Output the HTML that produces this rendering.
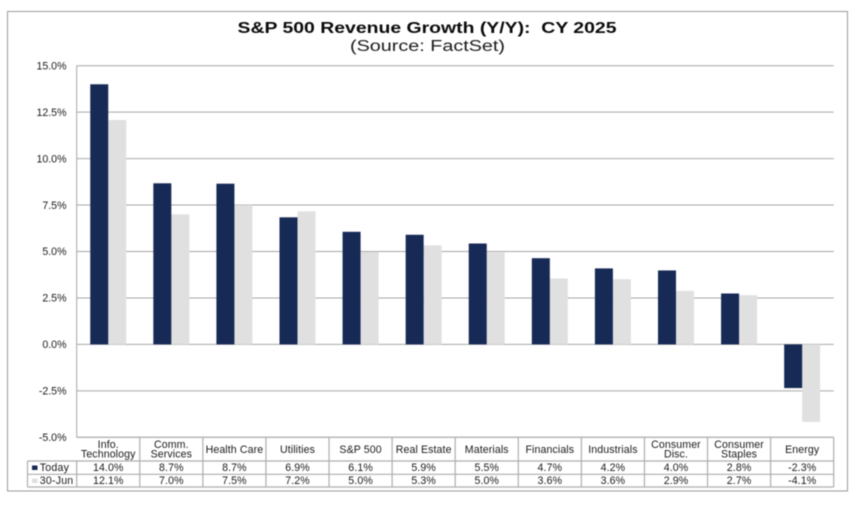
<!DOCTYPE html>
<html>
<head>
<meta charset="utf-8">
<style>
html,body{margin:0;padding:0;background:#fff;width:852px;height:505px;overflow:hidden}
svg{display:block;filter:blur(0.4px)}
text{font-family:"Liberation Sans",Arial,sans-serif;fill:#1a1a1a}
</style>
</head>
<body>
<svg id="chart" width="852" height="505" viewBox="0 0 852 505" xmlns="http://www.w3.org/2000/svg">
<rect x="7.5" y="11.5" width="840" height="479.5" fill="#fff" stroke="#9a9a9a" stroke-width="1"/>
<text x="427" y="33" text-anchor="middle" font-size="16" font-weight="700" textLength="379" lengthAdjust="spacingAndGlyphs" style="fill:#0a0a0a">S&amp;P 500 Revenue Growth (Y/Y):&#160;&#160;CY 2025</text>
<text x="427.5" y="51" text-anchor="middle" font-size="15.5" textLength="155" lengthAdjust="spacingAndGlyphs">(Source: FactSet)</text>
<g id="grid"></g>
<g id="bars"></g>
<g id="table"></g>
</svg>
<script>
const categories = [["Info.","Technology"],["Comm.","Services"],["Health Care"],["Utilities"],["S&P 500"],["Real Estate"],["Materials"],["Financials"],["Industrials"],["Consumer","Disc."],["Consumer","Staples"],["Energy"]];
const todayValues = [14.0,8.67,8.65,6.84,6.06,5.9,5.43,4.64,4.09,3.98,2.74,-2.35];
const juneValues = [12.08,7.0,7.5,7.16,4.98,5.33,4.95,3.55,3.51,2.88,2.65,-4.17];
const todayLabels = ["14.0%","8.7%","8.7%","6.9%","6.1%","5.9%","5.5%","4.7%","4.2%","4.0%","2.8%","-2.3%"];
const juneLabels = ["12.1%","7.0%","7.5%","7.2%","5.0%","5.3%","5.0%","3.6%","3.6%","2.9%","2.7%","-4.1%"];
const tickValues = [15,12.5,10,7.5,5,2.5,0,-2.5,-5];
const tickLabels = ["15.0%","12.5%","10.0%","7.5%","5.0%","2.5%","0.0%","-2.5%","-5.0%"];

const NS = "http://www.w3.org/2000/svg";
const plotLeft = 76.7, plotRight = 833.7, plotTop = 65.7, plotBottom = 437.3;
const yMax = 15, yMin = -5;
const barW = 18;
const rowTop = [437.3, 461, 474.3, 487];
const legendLeft = 27.5;
const colW = (plotRight - plotLeft) / categories.length;
const yScale = v => plotTop + (yMax - v) / (yMax - yMin) * (plotBottom - plotTop);
const xBand = i => plotLeft + i * colW;

function mk(tag, attrs, parent, txt) {
  const el = document.createElementNS(NS, tag);
  for (const k in attrs) el.setAttribute(k, attrs[k]);
  if (txt !== undefined) el.textContent = txt;
  parent.appendChild(el);
  return el;
}
const grid = document.getElementById("grid");
const bars = document.getElementById("bars");
const table = document.getElementById("table");

tickValues.forEach((t, i) => {
  const y = yScale(t);
  const line = mk("line", {x1:plotLeft, x2:plotRight, y1:y, y2:y, stroke:"#a6a6a6", "stroke-width":1}, grid);
  
  
  const label = mk("text", {x:66.5, y:y + 3.7, "text-anchor":"end", "font-size":10.6}, grid, tickLabels[i]);
  
  
});
const axis = mk("line", {x1:plotLeft, x2:plotLeft, y1:plotTop, y2:plotBottom, stroke:"#a6a6a6", "stroke-width":1}, grid);



function barRect(v, x, color) {
  const y0 = yScale(0), y1 = yScale(v);
  return mk("rect", {x:x, y:Math.min(y0, y1), width:barW, height:Math.abs(y1 - y0), fill:color}, bars);
}
categories.forEach((c, i) => {
  const cx = xBand(i) + colW / 2;
  const b1 = barRect(juneValues[i], cx, "#e0e0e0");
  
  
  const b2 = barRect(todayValues[i], cx - barW, "#172a55");
  
  
});

const tableStroke = "#aeaeae";
const tableLine = 1.2;
rowTop.forEach((y, r) => {
  const hl = mk("line", {x1: r === 0 ? plotLeft : legendLeft, x2:plotRight, y1:y, y2:y, stroke:tableStroke, "stroke-width":tableLine}, table);
  
  
});
categories.forEach((c, i) => {
  const x = xBand(i + 1);
  const vl = mk("line", {x1:x, x2:x, y1:rowTop[0], y2:rowTop[3], stroke:tableStroke, "stroke-width":tableLine}, table);
  
  
  const cx = xBand(i) + colW / 2;
  c.forEach((ln, k) => {
    const y = c.length === 1 ? 453.2 : 447.8 + k * 9.6;
    const t = mk("text", {x:cx, y:y, "text-anchor":"middle", "font-size":10.6, "letter-spacing":0.1}, table, ln);
    
    
  });
  const t1 = mk("text", {x:cx, y:471, "text-anchor":"middle", "font-size":10.6, "letter-spacing":0.1}, table, todayLabels[i]);
  
  
  const t2 = mk("text", {x:cx, y:484, "text-anchor":"middle", "font-size":10.6, "letter-spacing":0.1}, table, juneLabels[i]);
  
  
});
[legendLeft, plotLeft].forEach(x => {
  const vl = mk("line", {x1:x, x2:x, y1:rowTop[1], y2:rowTop[3], stroke:tableStroke, "stroke-width":tableLine}, table);
  
  
});
const k1 = mk("rect", {x:32, y:465.5, width:5.5, height:4.5, fill:"#172a55"}, table);


const l1 = mk("text", {x:39.8, y:471, "font-size":10.6, "letter-spacing":0.2}, table, "Today");


const k2 = mk("rect", {x:32, y:478.5, width:5.5, height:4.5, fill:"#e0e0e0"}, table);


const l2 = mk("text", {x:39.8, y:484, "font-size":10.6, "letter-spacing":0.2}, table, "30-Jun");


</script>
</body>
</html>
